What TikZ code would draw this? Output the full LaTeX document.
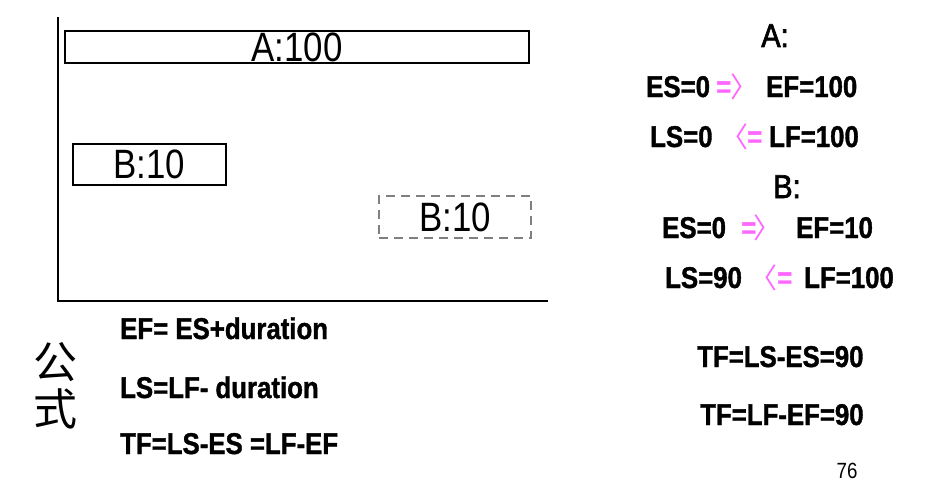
\documentclass[tikz,border=0pt]{standalone}
\usepackage{fontspec}
\setmainfont{Liberation Sans}
\newfontfamily\condfont{Liberation Sans}[FakeStretch=0.85]
\newfontfamily\headfont{Liberation Sans}[FakeStretch=0.88, FakeBold=2]
\newfontfamily\eqfont{Liberation Sans Bold}[FakeStretch=0.86, FakeBold=1.2]
\newfontfamily\cjk{Noto Sans CJK SC}
\definecolor{arrowpink}{HTML}{FF66FF}
\definecolor{latebox}{HTML}{808080}

\tikzset{
  bar/.style={draw, line width=1.5pt, inner sep=0pt, font=\condfont\fontsize{41}{43}\selectfont},
  eq/.style={anchor=base west, inner sep=0pt, font=\eqfont\fontsize{30}{32}\selectfont},
  head/.style={anchor=base, inner sep=0pt, font=\headfont\fontsize{33}{35}\selectfont},
  pk/.style={eq, text=arrowpink},
  br/.style={anchor=base west, inner sep=0pt, text=arrowpink, font=\cjk\fontsize{28}{30}\selectfont},
  han/.style={inner sep=0pt, font=\cjk\fontsize{44}{46}\selectfont},
}

\begin{document}
\begin{tikzpicture}[x=1pt,y=-1pt]
    \useasboundingbox (0,0) rectangle (929,495);

    % axes
    \coordinate (top) at (58,17);
    \coordinate (origin) at (58,301);
    \coordinate (right) at (548,301);
    \draw[line width=2pt] (top) -- (origin) -- (right);

    % bars
    \node[bar, minimum width=464, minimum height=32] (barA) at (297,47) {A:100};
    \node[bar, minimum width=153, minimum height=41] (barB) at (149.5,164.5) {B:10};
    \node[bar, draw=latebox, line width=2.4pt, dash pattern=on 9pt off 6pt,
          minimum width=152, minimum height=42] (barBlate) at (455,217) {B:10};

    % A
    \node[head] (titleA) at (775,47) {A:};
    \node[eq] (esA) at (646,97) {ES=0};
    \node[pk] (eqA1) at (716,97) {=};
    \node[br] (brA1) at (730,97) {〉};
    \node[eq] (efA) at (766,97) {EF=100};
    \node[eq] (lsA) at (650,147) {LS=0};
    \node[br] (brA2) at (720,147) {〈};
    \node[pk] (eqA2) at (747,147) {=};
    \node[eq] (lfA) at (769,147) {LF=100};

    % B
    \node[head] (titleB) at (787,198) {B:};
    \node[eq] (esB) at (662,238) {ES=0};
    \node[pk] (eqB1) at (741,238) {=};
    \node[br] (brB1) at (753,238) {〉};
    \node[eq] (efB) at (796,238) {EF=10};
    \node[eq] (lsB) at (665,288) {LS=90};
    \node[br] (brB2) at (749,288) {〈};
    \node[pk] (eqB2) at (777,288) {=};
    \node[eq] (lfB) at (804,288) {LF=100};

    \node[eq] (tf1) at (697,367) {TF=LS-ES=90};
    \node[eq] (tf2) at (700,425) {TF=LF-EF=90};

    % formulas
    \node[han] (gong) at (55,362) {公};
    \node[han] (shi) at (55,409) {式};
    \node[eq] (fEF) at (120,339) {EF= ES+duration};
    \node[eq] (fLS) at (120,398) {LS=LF- duration};
    \node[eq] (fTF) at (120,454) {TF=LS-ES =LF-EF};

    \node[font=\condfont\fontsize{22}{24}\selectfont, inner sep=0pt] (page) at (847,471) {76};
\end{tikzpicture}
\end{document}
